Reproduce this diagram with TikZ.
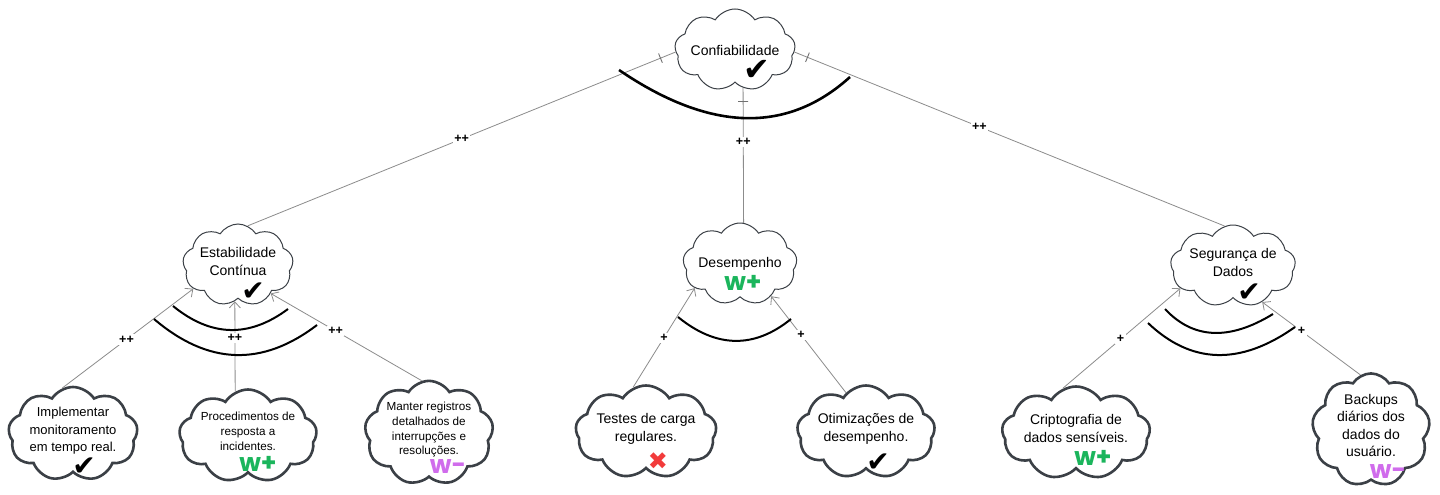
\documentclass[tikz,border=0pt]{standalone}
\usepackage{fontspec}
\setmainfont{Liberation Sans}
\newfontfamily\symfont{DejaVu Sans}
\newfontfamily\handfont{Poppins}
\usetikzlibrary{shapes.symbols,arrows.meta}

\definecolor{cloudline}{HTML}{3B4046}
\definecolor{edgegray}{HTML}{8C8C8C}
\definecolor{wgreen}{HTML}{1BB55C}
\definecolor{wpurple}{HTML}{D06CEC}
\definecolor{xred}{HTML}{F23B3B}

\tikzset{
  softgoal/.style={cloud, cloud puffs=9, cloud puff arc=115, cloud ignores aspect, draw=cloudline,
    line width=1pt, fill=white, align=center, inner sep=0pt,
    font=\fontsize{14}{17.5}\selectfont},
  leafgoal/.style={softgoal, line width=2.6pt, minimum width=120pt, minimum height=93pt,
    text depth=9pt},
  contrib/.style={draw=edgegray, line width=0.8pt, -{Straight Barb[length=6pt,width=11pt]}},
  topedge/.style={draw=edgegray, line width=0.8pt},
  lbl/.style={fill=white, inner sep=1.5pt, font=\bfseries\fontsize{12.5}{12.5}\selectfont},
  cutmark/.style={draw=edgegray!80!black, line width=0.9pt, inner sep=0pt, minimum width=0pt,
    minimum height=10pt, sloped},
  andarc/.style={line width=2pt},
  okmark/.style={inner sep=0pt, font=\symfont\fontsize{28}{28}\selectfont},
  nomark/.style={inner sep=0pt, text=xred, font=\symfont\fontsize{24}{24}\selectfont},
  wplus/.style={inner sep=0pt, text=wgreen, font=\handfont\bfseries\fontsize{25}{25}\selectfont},
  wminus/.style={inner sep=0pt, text=wpurple, font=\handfont\bfseries\fontsize{25}{25}\selectfont}
}

\begin{document}
\begin{tikzpicture}[x=1pt,y=-1pt]
  \useasboundingbox[fill=white] (0,0) rectangle (1440,495);

  % softgoals
  \node[softgoal, minimum width=108pt, minimum height=82pt] (conf) at (735,50) {Confiabilidade};
  \node[softgoal, minimum width=108pt, minimum height=82pt, text depth=7pt] (estab) at (238,265) {Estabilidade\\Contínua};
  \node[softgoal, minimum width=113pt, minimum height=82pt] (desemp) at (740,264) {Desempenho};
  \node[softgoal, minimum width=110pt, minimum height=82pt, text depth=7pt] (seg) at (1233,266) {Segurança de\\Dados};

  \node[leafgoal, font=\fontsize{13}{17.5}\selectfont] (impl) at (73,434) {Implementar\\monitoramento\\em tempo real.};
  \node[leafgoal, minimum width=112pt, font=\fontsize{11.7}{14.8}\selectfont] (proc) at (248,436) {Procedimentos de\\resposta a\\incidentes.};
  \node[leafgoal, minimum width=114pt, font=\fontsize{11.7}{14.7}\selectfont] (regs) at (429,433) {Manter registros\\detalhados de\\interrupções e\\resoluções.};
  \node[leafgoal] (testes) at (646,432) {Testes de carga\\regulares.};
  \node[leafgoal] (otim) at (866,432) {Otimizações de\\desempenho.};
  \node[leafgoal] (cripto) at (1076,433) {Criptografia de\\dados sensíveis.};
  \node[leafgoal, minimum width=118pt] (backup) at (1371,430) {Backups\\diários dos\\dados do\\usuário.};

  % marks
  \node[okmark, font=\symfont\fontsize{32}{32}\selectfont] (mk-conf) at (757,70) {✔};
  \node[okmark] (mk-estab) at (253,292) {✔};
  \node[wplus] (mk-desemp) at (743,283) {w+};
  \node[okmark] (mk-seg) at (1249,293) {✔};
  \node[okmark] (mk-impl) at (84,467) {✔};
  \node[wplus] (mk-proc) at (258,464) {w+};
  \node[wminus] (mk-regs) at (448,467) {w-};
  \node[nomark] (mk-testes) at (658,461) {✖};
  \node[okmark] (mk-otim) at (878,463) {✔};
  \node[wplus] (mk-cripto) at (1093,458) {w+};
  \node[wminus] (mk-backup) at (1388,472) {w-};

  % top level
  \draw[topedge] (estab.76) -- node[lbl, pos=0.5] (l-estab) {++} node[cutmark, pos=0.965] (c-estab) {} (conf.182);
  \draw[topedge] (desemp.85) -- node[lbl, pos=0.6] (l-desemp) {++} node[cutmark, pos=0.9] (c-desemp) {} (conf.-78);
  \draw[topedge] (seg.102) -- node[lbl, pos=0.57] (l-seg) {++} node[cutmark, pos=0.97] (c-seg) {} (conf.358);
  \draw[andarc, line width=2.6pt] (619,70) .. controls (710,132) and (787,134) .. (850,77);

  % contributions
  \draw[contrib] (impl.103) -- node[lbl, pos=0.49] (l-impl) {++} (estab.208);
  \draw[contrib] (proc.106) -- node[lbl, pos=0.59] (l-proc) {++} (estab.265);
  \draw[contrib] (regs.98) -- node[lbl, pos=0.57] (l-regs) {++} (estab.319);
  \draw[andarc] (173,306) .. controls (211,337) and (249,338) .. (288,309);
  \draw[andarc] (154,319) .. controls (208,365) and (262,367) .. (317,325);

  \draw[contrib] (testes.106) -- node[lbl, pos=0.5] (l-testes) {+} (desemp.208);
  \draw[contrib] (otim.117) -- node[lbl, pos=0.6] (l-otim) {+} (desemp.314);
  \draw[andarc] (678,317) .. controls (716,348) and (754,349) .. (791,319);

  \draw[contrib] (cripto.106) -- node[lbl, pos=0.49] (l-cripto) {+} (seg.203);
  \draw[contrib] (backup.101) -- node[lbl, pos=0.6] (l-backup) {+} (seg.309);
  \draw[andarc] (1165,309) .. controls (1193,339) and (1229,341) .. (1273,314);
  \draw[andarc] (1148,323) .. controls (1191,364) and (1240,366) .. (1295,327);
\end{tikzpicture}
\end{document}
